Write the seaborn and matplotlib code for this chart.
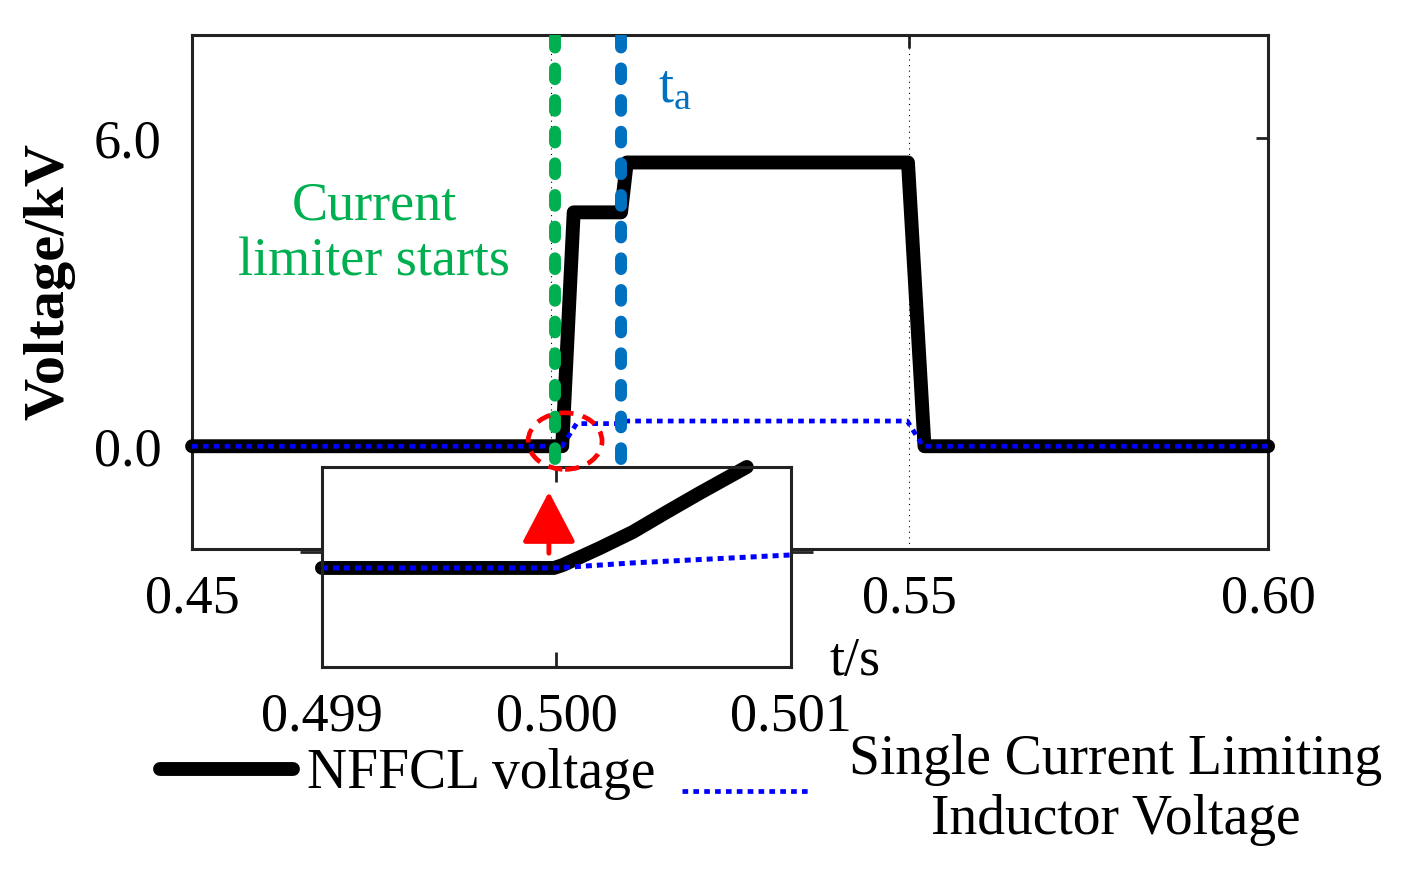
import numpy as np
import pandas as pd
import seaborn as sns
import matplotlib.pyplot as plt
from matplotlib.patches import Ellipse

# main plot data (time in s, voltage in kV)
t_nffcl = [0.45, 0.5016, 0.5032, 0.5098, 0.5106, 0.5498, 0.5521, 0.60]
v_nffcl = [0.0, 0.0, 4.55, 4.55, 5.52, 5.52, 0.0, 0.0]
t_single = [0.45, 0.5016, 0.5036, 0.5098, 0.5106, 0.5497, 0.5519, 0.60]
v_single = [0.0, 0.0, 0.44, 0.44, 0.49, 0.49, 0.0, 0.0]

# zoomed inset data
t_zoom_nffcl = [0.499, 0.49999, 0.500028, 0.500186, 0.500326, 0.500471, 0.500612, 0.500812]
v_zoom_nffcl = [0.0, 0.0, 0.015, 0.10, 0.18, 0.28, 0.375, 0.505]
t_zoom_single = [0.499, 0.5, 0.50032, 0.501]
v_zoom_single = [0.0, 0.0, 0.025, 0.065]

t_start = 0.5006
t_a = 0.5098
x_ticks = [0.45, 0.50, 0.55, 0.60]
x_ticklabels = ['0.45', '', '0.55', '0.60']
y_ticks = [0.0, 6.0]
y_ticklabels = ['0.0', '6.0']
zoom_ticks = [0.499, 0.500, 0.501]
zoom_ticklabels = ['0.499', '0.500', '0.501']

sns.set_theme(style='white')
plt.rcParams['font.family'] = ['Liberation Serif', 'DejaVu Serif']
plt.rcParams['mathtext.fontset'] = 'custom'
plt.rcParams['mathtext.rm'] = 'Liberation Serif'
plt.rcParams['axes.edgecolor'] = '#222222'
plt.rcParams['axes.linewidth'] = 2.2
plt.rcParams['text.color'] = 'black'
plt.rcParams['axes.labelcolor'] = 'black'

fs = 39
fig = plt.figure(figsize=(14.04, 8.73), dpi=100)
ax = fig.add_axes([0.1368, 0.3711, 0.7664, 0.5888])

main = pd.DataFrame({'t': t_nffcl, 'v': v_nffcl})
single = pd.DataFrame({'t': t_single, 'v': v_single})
sns.lineplot(data=main, x='t', y='v', ax=ax, color='black', lw=10, errorbar=None,
             solid_capstyle='round', solid_joinstyle='round', label='NFFCL voltage',
             zorder=3, clip_on=False)
sns.lineplot(data=single, x='t', y='v', ax=ax, color='#0000FF', lw=3.4, errorbar=None,
             linestyle=(0, (1.2, 1.1)), label='Single Current Limiting\nInductor Voltage',
             zorder=4, clip_on=False)

for x in x_ticks[1:3]:
    ax.axvline(x, color='black', lw=0.8, ls=(0, (1, 4)), zorder=1)

ax.vlines(t_start, -0.25, 8, colors='#00B050', lw=8.6, linestyles=(0, (0.9, 1.75)), zorder=5)
ax.vlines(t_a, -0.25, 8, colors='#0070C0', lw=8.6, linestyles=(0, (0.9, 1.75)), zorder=5)
for coll in ax.collections:
    coll.set_capstyle('round')

ax.text(0.4754, 4.12, 'Current\nlimiter starts', color='#00B050', fontsize=fs,
        ha='center', va='center', linespacing=1.15)
ax.text(0.5173, 6.97, r'$\mathrm{t_a}$', color='#0070C0', fontsize=fs, ha='center', va='center')

ax.set_xlim(0.45, 0.60)
ax.set_ylim(-2, 8)
ax.set_xticks(x_ticks)
ax.set_xticklabels(x_ticklabels)
ax.set_yticks(y_ticks)
ax.set_yticklabels(y_ticklabels)
ax.tick_params(axis='both', direction='in', length=9, width=2, labelsize=fs, colors='#222222',
               labelcolor='black', top=True, right=True)
ax.tick_params(axis='x', pad=18)
ax.tick_params(axis='y', pad=22)
ax.set_xlabel('t/s', fontsize=fs)
ax.xaxis.set_label_coords(0.616, -0.17)
ax.set_ylabel('Voltage/kV', fontsize=42, fontweight='bold')
ax.yaxis.set_label_coords(-0.108, 0.521)

handles, labels = ax.get_legend_handles_labels()
ax.get_legend().remove()
leg1 = fig.legend(handles[:1], labels[:1], loc='center left', bbox_to_anchor=(0.114, 0.113),
                  frameon=False, fontsize=40, handlelength=2.4, handletextpad=0.25,
                  borderaxespad=0, borderpad=0)
leg2 = fig.legend(handles[1:], labels[1:], loc='center left', bbox_to_anchor=(0.486, 0.095),
                  frameon=False, fontsize=40, handlelength=2.3, handletextpad=0.7,
                  borderaxespad=0, borderpad=0)
for txt in leg2.get_texts():
    txt.set_multialignment('center')

# inset
axin = fig.add_axes([0.2293, 0.2360, 0.3340, 0.2291])
axin.set_facecolor('white')
zn = pd.DataFrame({'t': t_zoom_nffcl, 'v': v_zoom_nffcl})
zs = pd.DataFrame({'t': t_zoom_single, 'v': v_zoom_single})
sns.lineplot(data=zn, x='t', y='v', ax=axin, color='black', lw=10, errorbar=None,
             solid_capstyle='round', clip_on=False)
sns.lineplot(data=zs, x='t', y='v', ax=axin, color='#0000FF', lw=3.6, errorbar=None,
             linestyle=(0, (1.2, 1.0)))
axin.set_xlim(0.499, 0.501)
axin.set_ylim(-0.495, 0.505)
axin.set_xticks(zoom_ticks)
axin.set_xticklabels(zoom_ticklabels)
axin.set_yticks([0.08])
axin.set_yticklabels([])
axin.tick_params(axis='x', direction='in', length=11, width=2, top=True, bottom=True,
                 labelsize=fs, pad=18, colors='#222222', labelcolor='black')
axin.tick_params(axis='y', direction='out', length=16, width=2, left=True, right=True,
                 colors='#222222')
axin.set_xlabel('')
axin.set_ylabel('')
axin.annotate('', xy=(0.499968, 0.395), xytext=(0.499968, 0.06),
              arrowprops=dict(arrowstyle='-|>,head_length=0.8,head_width=0.42',
                              color='red', lw=3.5, mutation_scale=40))

ell = Ellipse((0.5020, 0.1), 0.0103, 1.1, transform=ax.transData, fill=False,
              edgecolor='red', lw=3.4, ls=(0, (3, 2)), zorder=10)
fig.add_artist(ell)

fig.savefig('out.png', dpi=100)
